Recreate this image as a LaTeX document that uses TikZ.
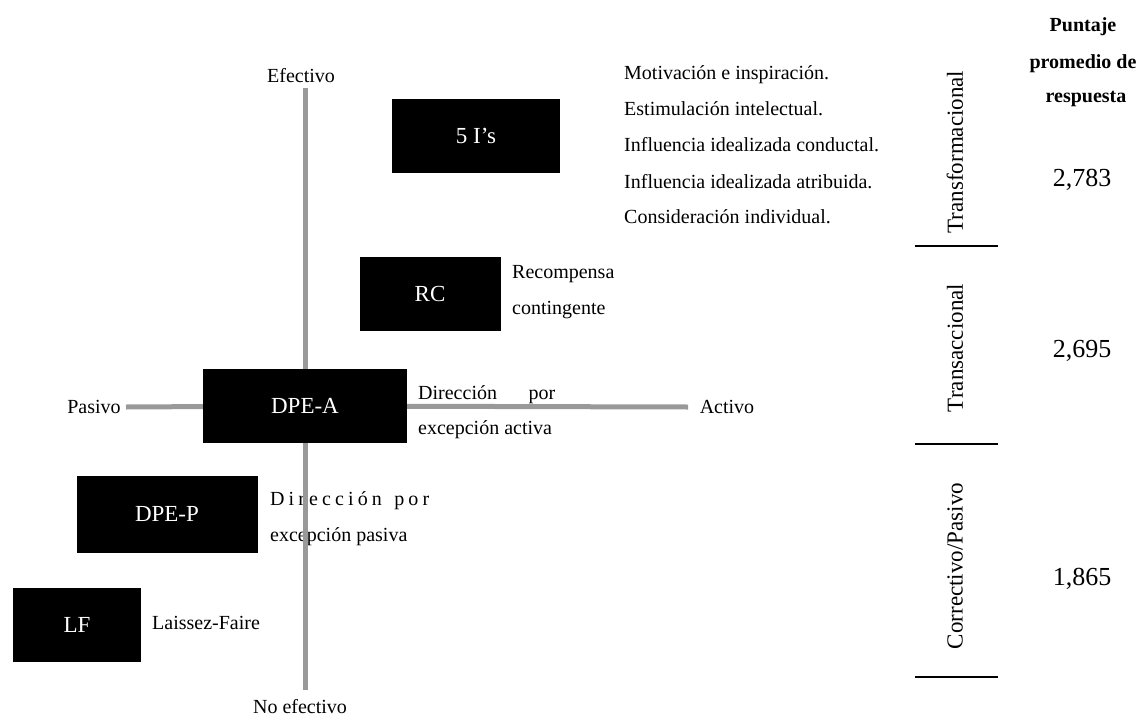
\documentclass[tikz,border=0pt]{standalone}
\usepackage{fontspec}
\setmainfont{Liberation Serif}
\newcommand\fsz[1]{\fontsize{#1}{#1}\selectfont}
\definecolor{axisgray}{HTML}{999999}
\tikzset{
  blackbox/.style={rectangle, fill=black, text=white, inner sep=0pt, font=\fsz{23}},
  sidetext/.style={font=\fsz{20}, inner sep=0pt, anchor=base west},
  plain/.style={font=\fsz{20}, inner sep=0pt},
  axisline/.style={draw=axisgray, line width=5pt},
  typelabel/.style={font=\fsz{23}, inner sep=0pt, rotate=90},
  score/.style={font=\fsz{26}, inner sep=0pt, anchor=base},
  header/.style={font=\fsz{20}\bfseries, inner sep=0pt, anchor=base},
  divider/.style={draw=black, line width=2.5pt}
}
\begin{document}
\begin{tikzpicture}[x=1pt, y=-1pt]
\useasboundingbox (0,0) rectangle (1146,720);

% descriptions beside the boxes
\node[sidetext] (m1) at (624,79)  {Motivación e inspiración.};
\node[sidetext] (m2) at (624,115) {Estimulación intelectual.};
\node[sidetext] (m3) at (624,151) {Influencia idealizada conductal.};
\node[sidetext] (m4) at (624,188) {Influencia idealizada atribuida.};
\node[sidetext] (m5) at (624,223) {Consideración individual.};

\node[sidetext] (rc1) at (512,278) {Recompensa};
\node[sidetext] (rc2) at (512,314) {contingente};

\node[sidetext] (da1) at (418,399) {\hbox to 137pt{Dirección\hfill por}};
\node[sidetext] (da2) at (418,434) {excepción activa};

\node[sidetext] (dp1) at (270,505) {\hbox to 159pt{D\hfill i\hfill r\hfill e\hfill c\hfill c\hfill i\hfill ó\hfill n\hskip 0pt plus 3fill p\hfill o\hfill r}};
\node[sidetext] (dp2) at (270,541) {excepción pasiva};

\node[sidetext] (lf1) at (152,629) {Laissez-Faire};

% axis end labels
\node[plain] (efe) at (301,76) {Efectivo};
\node[plain] (noefe) at (300,707) {No efectivo};
\node[plain] (pas) at (94,407) {Pasivo};
\node[plain] (act) at (727,407) {Activo};

% axis ends
\coordinate (top) at (305,88);
\coordinate (bot) at (305,690);
\coordinate (lft) at (126,407);
\coordinate (rgt) at (688,407);

% style boxes
\node[blackbox, minimum width=168pt, minimum height=74pt] (fivei) at (476,136) {5 I’s};
\node[blackbox, minimum width=141pt, minimum height=74pt] (rc) at (430,294) {RC};
\node[blackbox, minimum width=204pt, minimum height=74pt] (dpea) at (305,406) {DPE-A};
\node[blackbox, minimum width=181pt, minimum height=77pt] (dpep) at (167,514) {DPE-P};
\node[blackbox, minimum width=128pt, minimum height=74pt] (lf) at (77,625) {LF};

% axes meeting at the DPE-A box
\draw[axisline] (top) -- (dpea);
\draw[axisline] (dpea) -- (bot);
\draw[axisline] (lft) -- (dpea);
\draw[axisline] (dpea) -- (rgt);

% right-hand panel: leadership types and scores
\node[header] (h1) at (1083,31)  {Puntaje};
\node[header] (h2) at (1083,68)  {promedio de};
\node[header] (h3) at (1086,102) {respuesta};

\node[typelabel] (tf) at (955,152) {Transformacional};
\node[typelabel] (ts) at (955,348) {Transaccional};
\node[typelabel] (cp) at (955,566) {Correctivo/Pasivo};

\draw[divider] (915,246) -- (998,246);
\draw[divider] (915,444) -- (998,444);
\draw[divider] (915,677) -- (998,677);

\node[score] (s1) at (1082,186) {2,783};
\node[score] (s2) at (1082,357) {2,695};
\node[score] (s3) at (1082,585) {1,865};
\end{tikzpicture}
\end{document}
